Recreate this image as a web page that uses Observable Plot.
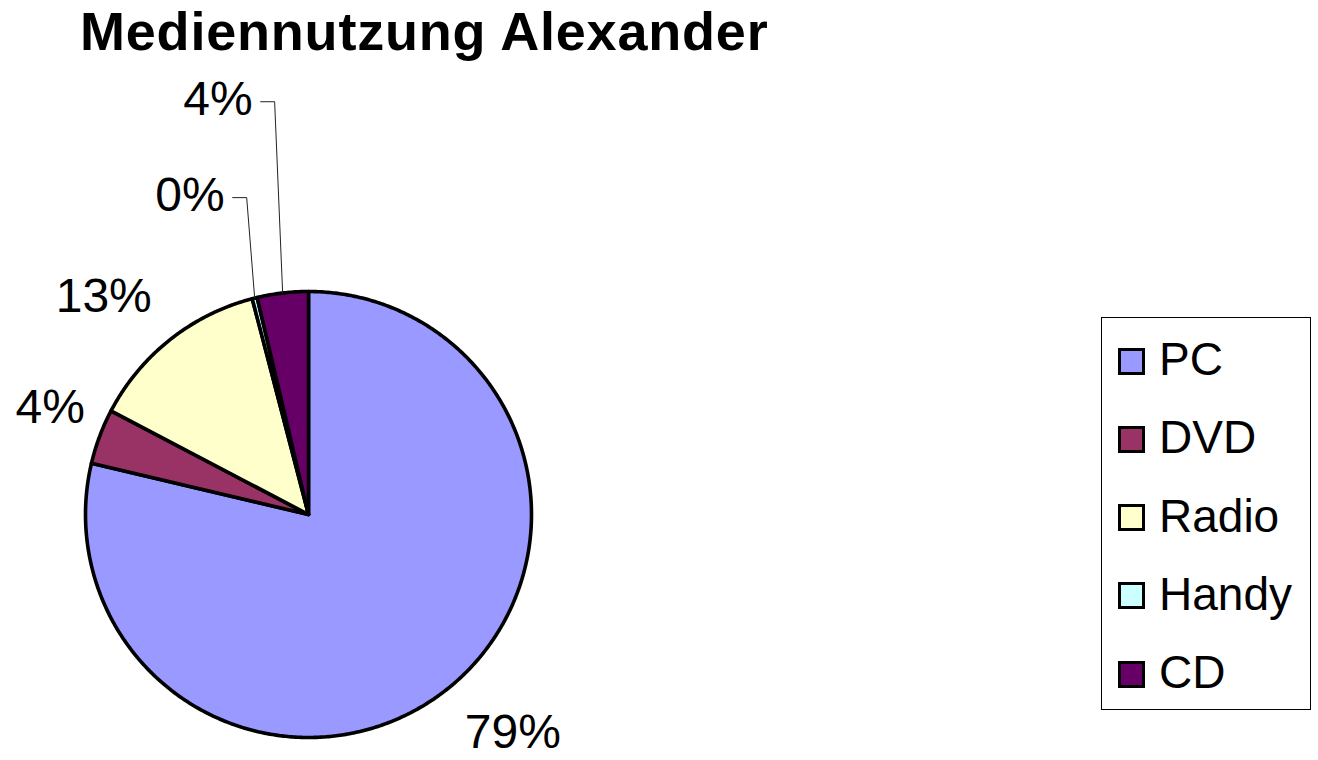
<!DOCTYPE html>
<html><head><meta charset="utf-8">
<script src="https://cdn.jsdelivr.net/npm/d3@7"></script>
<script src="https://cdn.jsdelivr.net/npm/@observablehq/plot@0.6"></script>
<style>
body{margin:0;background:#fff;}
#wrap{position:relative;width:1318px;height:760px;overflow:hidden;font-family:"Liberation Sans",Arial,sans-serif;background:#fff;}
#chart{position:absolute;left:0;top:0;}
#title{position:absolute;left:80px;top:4px;font-size:54px;letter-spacing:0.8px;font-weight:bold;line-height:54px;white-space:nowrap;color:#000;}
#legend{position:absolute;left:1101px;top:317px;width:210px;height:393px;border:1px solid #000;box-sizing:border-box;}
.item{position:absolute;left:16px;display:flex;align-items:center;height:44px;font-size:46px;line-height:44px;color:#000;white-space:nowrap;}
.sw{width:21px;height:21px;border:3px solid #000;margin-right:14px;flex:none;}
.lt{position:relative;top:-2px;}
</style></head><body>
<div id="wrap"><div id="chart"></div><div id="title">Mediennutzung Alexander</div><div id="legend"></div></div>
<script>
// ---- data ----
const categories = ["PC", "DVD", "Radio", "Handy", "CD"];
const shares = [78.7, 4.0, 13.25, 0.36, 3.7];
const pctLabels = ["79%", "4%", "13%", "0%", "4%"];
const colors = ["#9999FF", "#993366", "#FFFFCC", "#CCFFFF", "#660066"];

// ---- layout ----
const W = 1318, H = 760;
const cx = 308, cy = 514, R = 223;
const labelFont = 48;
const fam = "'Liberation Sans', Arial, sans-serif";

const total = d3.sum(shares);
const ctx = document.createElement("canvas").getContext("2d");
ctx.font = `${labelFont}px ${fam}`;

// slices as closed polygons in unit-circle coordinates
const slicePts = [];
const info = [];
let acc = 0;
categories.forEach((name, i) => {
  const a0 = acc / total * 2 * Math.PI;
  acc += shares[i];
  const a1 = acc / total * 2 * Math.PI;
  slicePts.push({name, x: 0, y: 0});
  const n = Math.max(2, Math.ceil((a1 - a0) / (Math.PI / 360)));
  for (let k = 0; k <= n; k++) {
    const a = a0 + (a1 - a0) * k / n;
    slicePts.push({name, x: Math.sin(a), y: Math.cos(a)});
  }
  info.push({name, i, a0, a1, mid: (a0 + a1) / 2});
});

// labels
const labelPts = [];
const leaderPts = [];
let rank = 0;
const hh = (0.716 * labelFont / 2) / R;
info.forEach(s => {
  const txt = pctLabels[s.i];
  const hw = ctx.measureText(txt).width / 2 / R;
  const sx = Math.sin(s.mid), sy = Math.cos(s.mid);
  const midDeg = s.mid * 180 / Math.PI;
  if (shares[s.i] < 5 && midDeg > 330) {
    // stacked label with leader line
    rank += 1;
    const ly = 1 + 0.43 * rank;
    const right = sx - 30 / R;
    labelPts.push({x: right - hw, y: ly, text: txt});
    leaderPts.push({id: s.i, x: right + 8 / R, y: ly - 2 / R});
    leaderPts.push({id: s.i, x: sx - 8 / R, y: ly - 2 / R});
    leaderPts.push({id: s.i, x: sx, y: sy});
  } else {
    let x = sx * 1.13 + Math.sign(sx) * hw;
    let y = sy * 1.15 + Math.sign(sy) * hh;
    x = Math.max(x, (15 - cx) / R + hw);
    y = Math.max(y, (cy - 740) / R);
    labelPts.push({x, y, text: txt});
  }
});

const plot = Plot.plot({
  width: W, height: H,
  marginTop: 0, marginBottom: 0, marginLeft: 0, marginRight: 0,
  x: {domain: [-1, 1], range: [cx - R, cx + R], axis: null},
  y: {domain: [-1, 1], range: [cy + R, cy - R], axis: null},
  color: {domain: categories, range: colors},
  style: {background: "transparent", fontFamily: fam},
  marks: [
    Plot.line(slicePts, {x: "x", y: "y", z: "name", fill: "name", stroke: "#000",
      strokeWidth: 3.6, strokeLinejoin: "round", curve: "linear-closed"}),
    Plot.line(leaderPts, {x: "x", y: "y", z: "id", stroke: "#222", strokeWidth: 1}),
    Plot.text(labelPts, {x: "x", y: "y", text: "text", fontSize: labelFont,
      fill: "#000", textAnchor: "middle", lineAnchor: "middle"})
  ]
});
document.getElementById("chart").appendChild(plot);

// legend
const leg = document.getElementById("legend");
categories.forEach((c, i) => {
  const d = document.createElement("div");
  d.className = "item";
  d.style.top = (360 + 78.3 * i - 317 - 22) + "px";
  d.innerHTML = `<div class="sw" style="background:${colors[i]}"></div><span class="lt">${c}</span>`;
  leg.appendChild(d);
});
</script>
</body></html>
